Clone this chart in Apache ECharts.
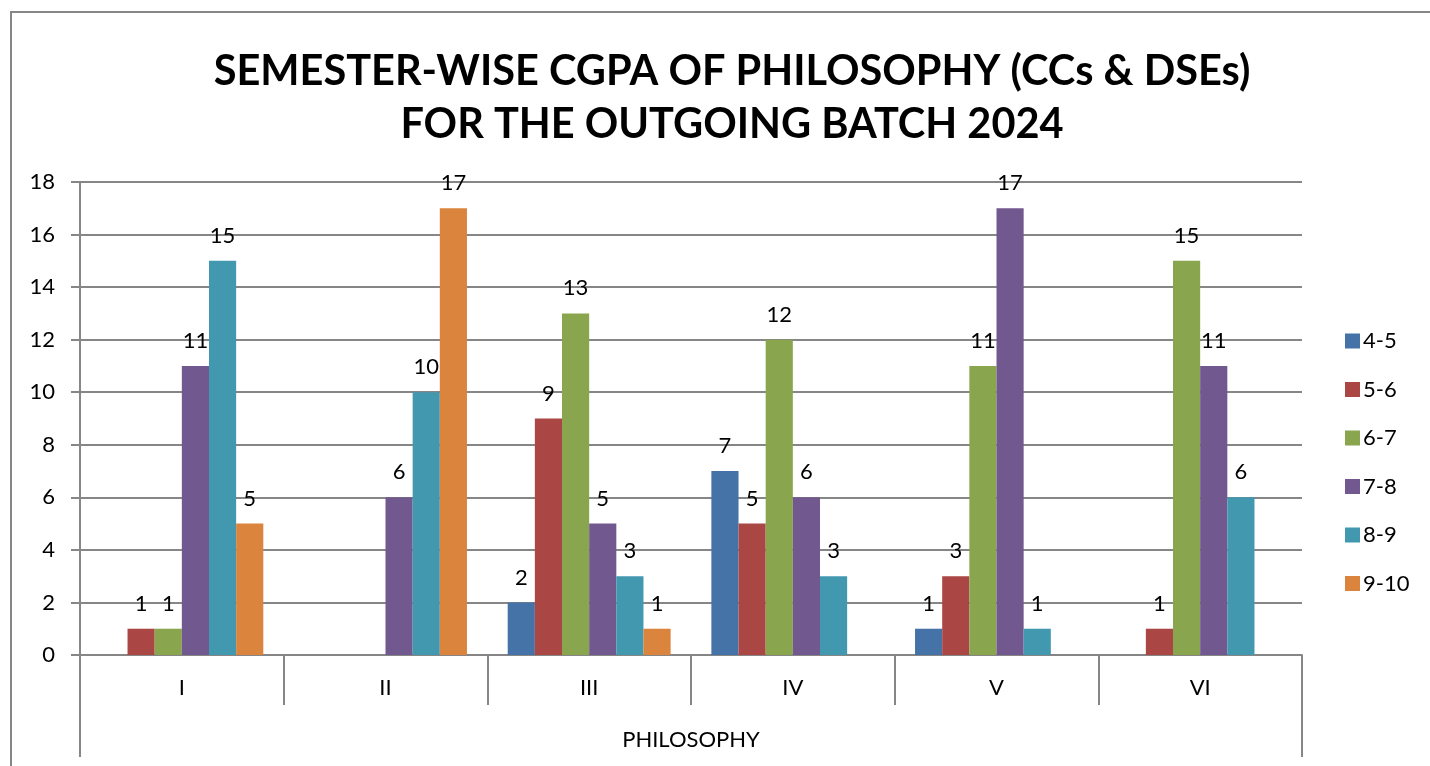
<!DOCTYPE html>
<html>
<head>
<meta charset="utf-8">
<script src="https://cdn.jsdelivr.net/npm/echarts@6/dist/echarts.min.js"></script>
<style>
  html, body { margin: 0; padding: 0; background: #fff; }
  #main { width: 1430px; height: 766px; }
</style>
</head>
<body>
<div id="main"></div>
<script>
  // semesters and CGPA ranges
  var semesters = ['I', 'II', 'III', 'IV', 'V', 'VI'];
  var ranges = ['4-5', '5-6', '6-7', '7-8', '8-9', '9-10'];
  // number of students per range, null = blank
  var r45  = [null, null, 2, 7, 1, null];
  var r56  = [1, null, 9, 5, 3, 1];
  var r67  = [1, null, 13, 12, 11, 15];
  var r78  = [11, 6, 5, 6, 17, 11];
  var r89  = [15, 10, 3, 3, 1, 6];
  var r910 = [5, 17, 1, null, null, null];
  var yTicks = [0, 18, 2];
  var colors = ['#4572A7', '#AA4643', '#89A54E', '#71588F', '#4198AF', '#DB843D'];

  var allData = [r45, r56, r67, r78, r89, r910];
  var gray = '#868686';
  var font = 'Lato, "Open Sans", sans-serif';

  var myChart = echarts.init(document.getElementById('main'));
  var series = [];
  for (var i = 0; i < ranges.length; i++) {
    series.push({
      name: ranges[i],
      type: 'bar',
      barGap: '0%',
      barCategoryGap: '20%',
      itemStyle: { color: colors[i] },
      label: { show: true, position: 'top', distance: 14, color: '#000', fontSize: 22, fontFamily: font },
      data: allData[i]
    });
  }

  var option = {
    animation: false,
    color: colors,
    title: {
      text: 'SEMESTER-WISE CGPA OF PHILOSOPHY (CCs & DSEs)\nFOR THE OUTGOING BATCH 2024',
      left: 727,
      textAlign: 'center',
      top: 40,
      textStyle: { fontFamily: font, fontWeight: 'bold', fontSize: 41.5, lineHeight: 53, color: '#000' }
    },
    graphic: [{
      type: 'rect',
      shape: { x: 11, y: 12, width: 1440, height: 800 },
      style: { fill: 'none', stroke: gray, lineWidth: 2 },
      silent: true
    }],
    legend: {
      orient: 'vertical',
      left: 1340,
      top: 325,
      itemWidth: 15,
      itemHeight: 15,
      itemGap: 26.5,
      icon: 'rect',
      textStyle: { fontSize: 22, fontFamily: font, color: '#000', padding: [0, 0, 0, -2] },
      data: ranges
    },
    grid: { left: 80, right: 128, top: 182, bottom: 111 },
    xAxis: [{
      type: 'category',
      data: semesters,
      axisLine: { lineStyle: { color: gray, width: 2 } },
      axisTick: { show: true, length: 50, interval: 0, lineStyle: { color: gray, width: 2 } },
      axisLabel: { margin: 22, fontSize: 22, color: '#000', fontFamily: font }
    }, {
      type: 'category',
      position: 'bottom',
      data: ['PHILOSOPHY'],
      axisLine: { show: false },
      axisTick: { show: true, length: 102, lineStyle: { color: gray, width: 2 } },
      axisLabel: { margin: 74, fontSize: 22, color: '#000', fontFamily: font }
    }],
    yAxis: {
      type: 'value',
      min: yTicks[0],
      max: yTicks[1],
      interval: yTicks[2],
      axisLine: { show: true, lineStyle: { color: gray, width: 2 } },
      axisTick: { show: true, length: 9, lineStyle: { color: gray, width: 2 } },
      axisLabel: { margin: 25, fontSize: 22, color: '#000', fontFamily: font },
      splitLine: { lineStyle: { color: gray, width: 2 } }
    },
    series: series
  };
  myChart.setOption(option);
  window.addEventListener('resize', function() { myChart.resize(); });
</script>
</body>
</html>
